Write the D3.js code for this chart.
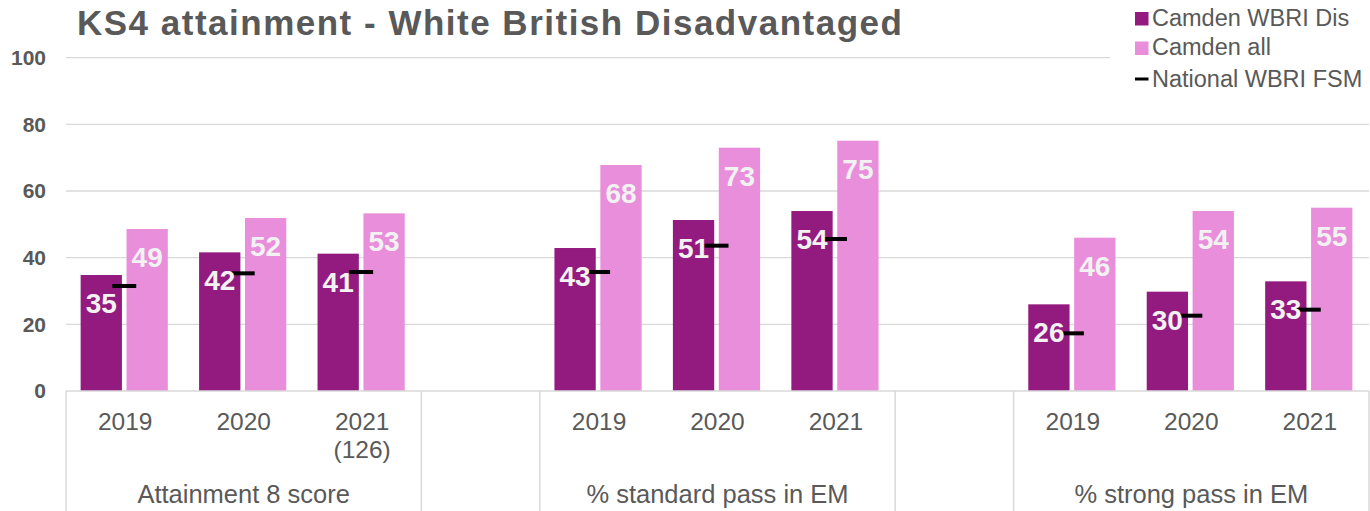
<!DOCTYPE html>
<html>
<head>
<meta charset="utf-8">
<script src="https://cdn.jsdelivr.net/npm/d3@7"></script>
<style>
  body { margin: 0; background: #fff; }
  svg { display: block; font-family: "Liberation Sans", Arial, sans-serif; }
</style>
</head>
<body>
<div id="chart"></div>
<script>
// chart data
var groupNames = ["Attainment 8 score", "", "% standard pass in EM", "", "% strong pass in EM"];
var groupSizes = [3, 1, 3, 1, 3];
var yearLabels = ["2019", "2020", "2021\n(126)", "", "2019", "2020", "2021", "", "2019", "2020", "2021"];
var camdenWbriDis = [34.8, 41.6, 41.2, null, 42.9, 51.3, 54.0, null, 26.0, 29.8, 32.9];
var camdenAll = [48.6, 51.9, 53.3, null, 67.8, 73.0, 75.1, null, 46.0, 54.0, 55.0];
var nationalWbriFsm = [31.5, 35.3, 35.7, null, 35.7, 43.6, 45.6, null, 17.3, 22.6, 24.4];
var yTicks = [0, 20, 40, 60, 80, 100];
var seriesNames = ["Camden WBRI Dis", "Camden all", "National WBRI FSM"];
var title = "KS4 attainment - White British Disadvantaged";

// dimensions
var width = 1370, height = 511;
var plotLeft = 66, plotRight = 1369, plotTop = 57.7, plotBottom = 391;
var darkCol = "#931b80", pinkCol = "#e98edb", textCol = "#595959", gridCol = "#d9d9d9";

var svg = d3.select("#chart")
    .append("svg")
    .attr("width", width)
    .attr("height", height);

var x = d3.scaleBand()
    .domain(d3.range(yearLabels.length))
    .range([plotLeft, plotRight]);

var y = d3.scaleLinear()
    .domain([0, 100])
    .range([plotBottom, plotTop]);

var barW = 41.3, barGap = 4.6;
function center(i) { return x(i) + x.bandwidth() / 2 - 1; }

// gridlines
svg.selectAll(".grid")
    .data(yTicks.slice(1))
    .enter().append("line")
    .attr("class", "grid")
    .attr("x1", plotLeft).attr("x2", plotRight)
    .attr("y1", function(d) { return y(d); })
    .attr("y2", function(d) { return y(d); })
    .style("stroke", gridCol)
    .style("stroke-width", 1.3);

// y tick labels
svg.selectAll(".ylab")
    .data(yTicks)
    .enter().append("text")
    .attr("class", "ylab")
    .attr("x", 46)
    .attr("y", function(d) { return y(d); })
    .attr("dy", "0.35em")
    .style("text-anchor", "end")
    .style("font-weight", "bold")
    .style("font-size", "21px")
    .style("fill", textCol)
    .text(function(d) { return d; });

// bars
var idx = d3.range(yearLabels.length).filter(function(i) { return camdenWbriDis[i] != null; });

svg.selectAll(".bar-dis")
    .data(idx)
    .enter().append("rect")
    .attr("class", "bar-dis")
    .attr("x", function(i) { return center(i) - barGap / 2 - barW; })
    .attr("y", function(i) { return y(camdenWbriDis[i]); })
    .attr("width", barW)
    .attr("height", function(i) { return y(0) - y(camdenWbriDis[i]); })
    .style("fill", darkCol);

svg.selectAll(".bar-all")
    .data(idx)
    .enter().append("rect")
    .attr("class", "bar-all")
    .attr("x", function(i) { return center(i) + barGap / 2; })
    .attr("y", function(i) { return y(camdenAll[i]); })
    .attr("width", barW)
    .attr("height", function(i) { return y(0) - y(camdenAll[i]); })
    .style("fill", pinkCol);

// national markers
svg.selectAll(".nat")
    .data(idx)
    .enter().append("rect")
    .attr("class", "nat")
    .attr("x", function(i) { return center(i) - 12; })
    .attr("y", function(i) { return y(nationalWbriFsm[i]) - 2; })
    .attr("width", 24)
    .attr("height", 4)
    .style("fill", "#000");

// data labels
var fmt = d3.format(".0f");
function addLabels(cls, vals, dx) {
    svg.selectAll("." + cls)
        .data(idx)
        .enter().append("text")
        .attr("class", cls)
        .attr("x", function(i) { return center(i) + dx; })
        .attr("y", function(i) { return y(vals[i]) + 38; })
        .style("text-anchor", "middle")
        .style("font-weight", "bold")
        .style("font-size", "28px")
        .style("fill", "#f2f2f2")
        .text(function(i) { return fmt(vals[i]); });
}
addLabels("lab-dis", camdenWbriDis, -barGap / 2 - barW / 2);
addLabels("lab-all", camdenAll, barGap / 2 + barW / 2);

// x axis line
svg.append("line")
    .attr("x1", plotLeft).attr("x2", plotRight)
    .attr("y1", plotBottom).attr("y2", plotBottom)
    .style("stroke", gridCol)
    .style("stroke-width", 1.5);

// group separators
var bounds = [0];
groupSizes.forEach(function(s) { bounds.push(bounds[bounds.length - 1] + s); });
svg.selectAll(".sep")
    .data(bounds)
    .enter().append("line")
    .attr("class", "sep")
    .attr("x1", function(b) { return b < yearLabels.length ? x(b) : plotRight; })
    .attr("x2", function(b) { return b < yearLabels.length ? x(b) : plotRight; })
    .attr("y1", plotBottom).attr("y2", height)
    .style("stroke", gridCol)
    .style("stroke-width", 1.5);

// year labels
var yl = svg.selectAll(".xlab")
    .data(yearLabels)
    .enter().append("text")
    .attr("class", "xlab")
    .style("text-anchor", "middle")
    .style("font-size", "24.5px")
    .style("fill", textCol);
yl.each(function(d, i) {
    var t = d3.select(this);
    d.split("\n").forEach(function(line, k) {
        t.append("tspan")
            .attr("x", center(i) + 1)
            .attr("y", 430 + k * 28)
            .text(line);
    });
});

// group labels
svg.selectAll(".glab")
    .data(groupNames)
    .enter().append("text")
    .attr("class", "glab")
    .attr("x", function(d, g) {
        var x0 = x(bounds[g]);
        var x1 = bounds[g + 1] < yearLabels.length ? x(bounds[g + 1]) : plotRight;
        return (x0 + x1) / 2;
    })
    .attr("y", 503)
    .style("text-anchor", "middle")
    .style("font-size", "25.5px")
    .style("fill", textCol)
    .text(function(d) { return d; });

// title
svg.append("text")
    .attr("x", 77)
    .attr("y", 35)
    .style("font-weight", "bold")
    .style("font-size", "35px")
    .style("letter-spacing", "1.5px")
    .style("fill", textCol)
    .text(title);

// legend
svg.append("rect")
    .attr("x", 1110).attr("y", 0)
    .attr("width", 260).attr("height", 100)
    .style("fill", "#fff");

var legendRows = [25.5, 55, 87];
var legend = svg.selectAll(".legend")
    .data(seriesNames)
    .enter().append("g")
    .attr("class", "legend");

legend.append("rect")
    .attr("x", 1135)
    .attr("y", function(d, i) { return i < 2 ? legendRows[i] - 13.5 : legendRows[i] - 9.5; })
    .attr("width", 13.5)
    .attr("height", function(d, i) { return i < 2 ? 13.5 : 3; })
    .style("fill", function(d, i) { return [darkCol, pinkCol, "#000"][i]; });

legend.append("text")
    .attr("x", 1152)
    .attr("y", function(d, i) { return legendRows[i]; })
    .style("font-size", "23.5px")
    .style("fill", textCol)
    .text(function(d) { return d; });
</script>
</body>
</html>
